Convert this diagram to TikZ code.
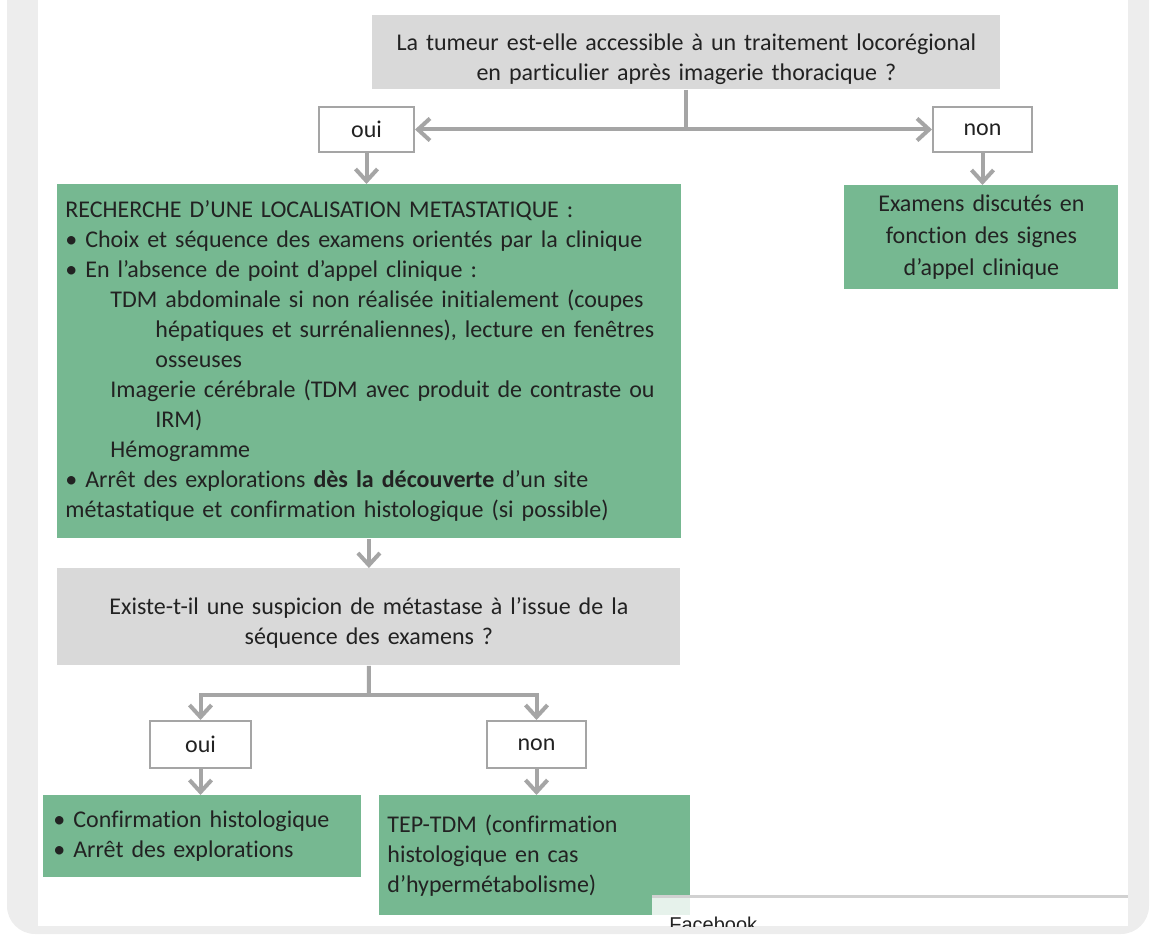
\documentclass[tikz,border=0pt]{standalone}
\usepackage{fontspec}
\setmainfont{Carlito}[Ligatures=NoCommon]
\newfontfamily\popupfont{Liberation Sans}
\usetikzlibrary{arrows.meta,calc}

\definecolor{boxgreen}{HTML}{76B891}
\definecolor{boxgray}{HTML}{D9D9D9}
\definecolor{linegray}{HTML}{A5A5A5}
\definecolor{framegray}{HTML}{EDEDED}
\definecolor{textdark}{HTML}{222222}

\tikzset{
  qbox/.style={fill=boxgray, text=textdark, align=center, anchor=north west, inner xsep=4pt, inner ysep=0pt},
  gbox/.style={fill=boxgreen, text=textdark, anchor=north west, inner xsep=4pt, inner ysep=0pt},
  answer/.style={draw=linegray, line width=1pt, fill=white, text=textdark, anchor=north west, inner sep=0pt},
  flow/.style={draw=linegray, line width=2pt},
  flowarrow/.style={flow, -{Straight Barb[length=6pt,width=11pt]}},
}

\begin{document}
\begin{tikzpicture}[x=0.5pt, y=-0.5pt, font=\fontsize{12}{15}\selectfont]
  % indents inside the big green box
  \def\indA{\hspace*{22.5pt}}
  \def\indB{\hspace*{45pt}}
  % pushes the question text a little down
  \def\qstrut{\rule{0pt}{15pt}}

  \useasboundingbox (0,0) rectangle (1152,935);

  % page frame
  \fill[framegray, rounded corners=14pt] (7,-40) rectangle (1149,934);
  \fill[white] (38,-5) rectangle (1128,926);

  % first question
  \node[qbox, text width=306pt, minimum height=37pt] (q1) at (372,15)
    {\qstrut La tumeur est-elle accessible à un traitement locorégional\\
     en particulier après imagerie thoracique ?};

  \node[answer, minimum width=47.5pt, minimum height=22.5pt] (oui1) at (318,106) {oui};
  \node[answer, minimum width=49.5pt, minimum height=22.5pt] (non1) at (932,106) {non};

  % search for metastases
  \node[gbox, text width=304pt, minimum height=177pt, align=left] (search) at (57,184)
    {RECHERCHE D’UNE LOCALISATION METASTATIQUE :\\
     • Choix et séquence des examens orientés par la clinique\\
     • En l’absence de point d’appel clinique :\\
     \indA TDM abdominale si non réalisée initialement (coupes\\
     \indB hépatiques et surrénaliennes), lecture en fenêtres\\
     \indB osseuses\\
     \indA Imagerie cérébrale (TDM avec produit de contraste ou\\
     \indB IRM)\\
     \indA Hémogramme\\
     • Arrêt des explorations \textbf{dès la découverte} d’un site\\
     métastatique et confirmation histologique (si possible)};

  \node[gbox, text width=129pt, minimum height=52pt, align=center, font=\fontsize{12}{16}\selectfont] (signs) at (844,185)
    {Examens discutés en\\ fonction des signes\\ d’appel clinique};

  % second question
  \node[qbox, text width=303.5pt, minimum height=48.5pt] (q2) at (57,568)
    {\qstrut Existe-t-il une suspicion de métastase à l’issue de la\\
     séquence des examens ?};

  \node[answer, minimum width=50.5pt, minimum height=23.5pt] (oui2) at (149,720) {oui};
  \node[answer, minimum width=49.5pt, minimum height=23.5pt] (non2) at (486,720) {non};

  \node[gbox, text width=149pt, minimum height=41pt, align=left, inner xsep=5pt] (histo) at (43,795)
    {• Confirmation histologique\\ • Arrêt des explorations};
  \node[gbox, text width=147.5pt, minimum height=60pt, align=left] (tep) at (379,795)
    {TEP-TDM (confirmation\\ histologique en cas\\ d’hypermétabolisme)};

  % connectors, top part
  \coordinate (split1) at (q1.south |- oui1.east);
  \draw[flow] (q1.south) -- (split1);
  \draw[flow, {Straight Barb[length=6pt,width=11pt]}-{Straight Barb[length=6pt,width=11pt]}] (oui1.east) -- (non1.west);
  \draw[flowarrow] (oui1.south) -- (oui1.south |- search.north);
  \draw[flowarrow] (non1.south) -- (non1.south |- signs.north);
  \draw[flowarrow] (search.south -| q2.north) -- (q2.north);

  % connectors, bottom part
  \coordinate (split2) at (369,695);
  \draw[flow] (q2.south) -- (split2);
  \draw[flowarrow] (split2) -| (oui2.north);
  \draw[flowarrow] (split2) -| (non2.north);
  \draw[flowarrow] (oui2.south) -- (oui2.south |- histo.north);
  \draw[flowarrow] (non2.south) -- (non2.south |- tep.north);

  % popup at the bottom edge
  \fill[white, opacity=0.82] (652,897) rectangle (1128,926);
  \draw[black!18, line width=1.5pt] (652,896) -- (1128,896);
  \begin{scope}
    \clip (652,897) rectangle (1128,926);
    \node[anchor=north west, inner sep=0pt, text=textdark, font=\popupfont\fontsize{10}{12}\selectfont] (popup) at (669,917) {Facebook};
  \end{scope}
\end{tikzpicture}
\end{document}
